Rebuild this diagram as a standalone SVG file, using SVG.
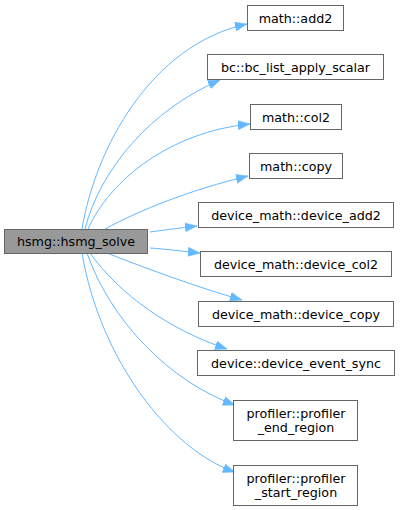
<svg xmlns="http://www.w3.org/2000/svg" width="400" height="510" viewBox="0 0 400 510">
<style>
.n rect{fill:#ffffff;stroke:#666666;stroke-width:1}
.m rect{fill:#999999;stroke:#666666;stroke-width:1}
text{font-family:"DejaVu Sans","Liberation Sans",sans-serif;font-size:12.7px;fill:#000000;text-anchor:middle}
.e path{fill:none;stroke:#63b8ff;stroke-width:1;marker-end:url(#a)}
</style>
<defs>
<marker id="a" markerUnits="userSpaceOnUse" markerWidth="13" markerHeight="10" refX="12" refY="5" orient="auto">
<path d="M0,0.5 L12,5 L0,9.5 z" fill="#63b8ff" stroke="#63b8ff" stroke-width="0.5"/>
</marker>
</defs>
<rect width="400" height="510" fill="#ffffff"/>
<g class="e" id="edges">
<path d="M82,229 C95,150 150,45 247,24"/>
<path d="M85,229 C100,170 150,110 220,80"/>
<path d="M88,229 C110,180 170,132 250,124"/>
<path d="M105,229 C140,210 190,190 248,176"/>
<path d="M150,232 C165,230 180,228 197,226"/>
<path d="M150,248 C165,249 180,251 200,253"/>
<path d="M107,253 C150,270 200,288 242,300"/>
<path d="M90,253 C120,295 170,330 227,349"/>
<path d="M87,253 C110,320 170,382 235,405"/>
<path d="M82,253 C100,360 170,450 235,472"/>
</g>
<g id="hsmg_solve" class="m"><rect x="4.5" y="229.5" width="143" height="24"/><text x="76" y="246">hsmg::hsmg_solve</text></g>
<g id="add2" class="n"><rect x="247.5" y="5.5" width="96" height="25"/><text x="295.5" y="22.5">math::add2</text></g>
<g id="bc" class="n"><rect x="207.5" y="54.5" width="176" height="25"/><text x="295.5" y="71.5">bc::bc_list_apply_scalar</text></g>
<g id="col2" class="n"><rect x="250.5" y="104.5" width="91" height="25"/><text x="296" y="121.5">math::col2</text></g>
<g id="copy" class="n"><rect x="249.5" y="153.5" width="93" height="25"/><text x="296" y="170.5">math::copy</text></g>
<g id="device_add2" class="n"><rect x="198.5" y="202.5" width="195" height="25"/><text x="296" y="219.5">device_math::device_add2</text></g>
<g id="device_col2" class="n"><rect x="200.5" y="251.5" width="191" height="25"/><text x="296" y="268.5">device_math::device_col2</text></g>
<g id="device_copy" class="n"><rect x="198.5" y="301.5" width="195" height="25"/><text x="296" y="318.5">device_math::device_copy</text></g>
<g id="device_event_sync" class="n"><rect x="197.5" y="350.5" width="197" height="25"/><text x="296" y="367.5">device::device_event_sync</text></g>
<g id="profiler_end" class="n"><rect x="233.5" y="400.5" width="124" height="40"/><text x="296" y="418">profiler::profiler</text><text x="296" y="432">_end_region</text></g>
<g id="profiler_start" class="n"><rect x="233.5" y="465.5" width="124" height="40"/><text x="296" y="483">profiler::profiler</text><text x="296" y="497">_start_region</text></g>
</svg>
